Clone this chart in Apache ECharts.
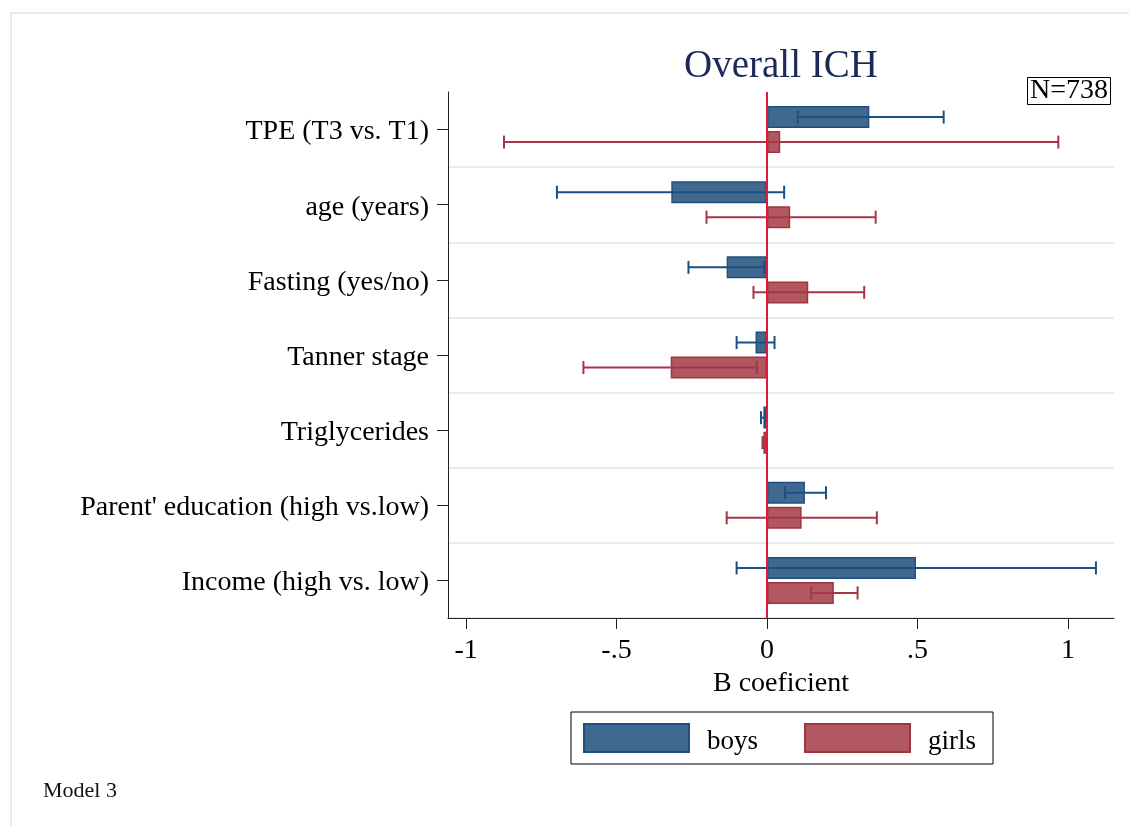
<!DOCTYPE html>
<html>
<head>
<meta charset="utf-8">
<script src="https://cdn.jsdelivr.net/npm/echarts@6/dist/echarts.min.js"></script>
<style>
html,body{margin:0;padding:0;background:#fff;}
#chart{width:1129px;height:826px;}
</style>
</head>
<body>
<div id="chart"></div>
<script>
const categories = ['TPE (T3 vs. T1)', 'age (years)', 'Fasting (yes/no)', 'Tanner stage', 'Triglycerides', "Parent' education (high vs.low)", 'Income (high vs. low)'];
const boysB  = [0.340, -0.318, -0.134, -0.038, -0.012, 0.126, 0.495];
const boysLo = [0.102, -0.698, -0.261, -0.101, -0.020, 0.060, -0.101];
const boysHi = [0.587, 0.057, -0.009, 0.025, -0.006, 0.196, 1.093];
const girlsB  = [0.044, 0.077, 0.137, -0.320, -0.012, 0.115, 0.222];
const girlsLo = [-0.874, -0.201, -0.045, -0.610, -0.015, -0.134, 0.147];
const girlsHi = [0.968, 0.361, 0.323, -0.034, -0.009, 0.365, 0.301];
const xTicks = [-1, -0.5, 0, 0.5, 1];
const xTickLabels = ['-1', '-.5', '0', '.5', '1'];

const FONT = 'Liberation Serif';
const chart = echarts.init(document.getElementById('chart'), null, {renderer: 'canvas'});

function errRender(offset, color) {
  return function (params, api) {
    const lo = api.value(0), hi = api.value(1), idx = api.value(2);
    const p1 = api.coord([lo, idx]);
    const p2 = api.coord([hi, idx]);
    const y = p1[1] + offset;
    const cap = 6.5;
    const st = {stroke: color, lineWidth: 2};
    return {
      type: 'group',
      children: [
        {type: 'line', shape: {x1: p1[0], y1: y, x2: p2[0], y2: y}, style: st},
        {type: 'line', shape: {x1: p1[0], y1: y - cap, x2: p1[0], y2: y + cap}, style: st},
        {type: 'line', shape: {x1: p2[0], y1: y - cap, x2: p2[0], y2: y + cap}, style: st}
      ]
    };
  };
}

const option = {
  animation: false,
  backgroundColor: '#ffffff',
  title: [
    {text: 'Overall ICH', left: 781, top: 47, textAlign: 'center', padding: 0,
     textStyle: {fontFamily: FONT, fontSize: 39, fontWeight: 'normal', color: '#1c2a5a'}},
    {text: 'N=738', left: 1027, top: 77, padding: [0, 3], borderColor: '#000', borderWidth: 1,
     textStyle: {fontFamily: FONT, fontSize: 28, fontWeight: 'normal', color: '#000', lineHeight: 28}},
    {text: 'Model 3', left: 43, top: 780, padding: 0,
     textStyle: {fontFamily: FONT, fontSize: 22, fontWeight: 'normal', color: '#111'}}
  ],
  graphic: [
    {type: 'rect', shape: {x: 11, y: 13, width: 1300, height: 1000}, silent: true,
     style: {fill: 'none', stroke: '#e3ecef', lineWidth: 2}}
  ],
  legend: {
    data: ['boys', 'girls'],
    left: 571, top: 712,
    orient: 'horizontal',
    padding: [9, 17, 9, 12],
    borderColor: '#000', borderWidth: 1,
    itemWidth: 105, itemHeight: 28, itemGap: 46,
    icon: 'rect',
    selectedMode: false,
    formatter: '{a|{name}}',
    textStyle: {fontFamily: FONT, fontSize: 27, color: '#000', lineHeight: 18,
      rich: {a: {fontFamily: FONT, fontSize: 27, color: '#000', lineHeight: 18, padding: [7, 0, 0, 13]}}}
  },
  grid: {left: 448, right: 15, top: 92, bottom: 208, containLabel: false},
  xAxis: {
    type: 'value', min: -1.06, max: 1.153,
    name: 'B coeficient', nameLocation: 'middle', nameGap: 51,
    nameTextStyle: {fontFamily: FONT, fontSize: 28, color: '#000'},
    axisLine: {show: true, lineStyle: {color: '#222', width: 1}},
    axisTick: {show: true, length: 11, customValues: xTicks, lineStyle: {color: '#222'}},
    axisLabel: {customValues: xTicks, margin: 19, fontFamily: FONT, fontSize: 28, color: '#000',
      formatter: function (v) { const i = xTicks.indexOf(v); return i >= 0 ? xTickLabels[i] : ''; }},
    splitLine: {show: false}
  },
  yAxis: {
    type: 'category', data: categories, inverse: true,
    axisLine: {show: true, onZero: false, lineStyle: {color: '#222', width: 1}},
    axisTick: {show: true, alignWithLabel: true, length: 11, lineStyle: {color: '#222'}},
    axisLabel: {margin: 19, fontFamily: FONT, fontSize: 28, color: '#000',
      formatter: function (v) { return '{a|' + v + '}'; },
      rich: {a: {fontFamily: FONT, fontSize: 28, color: '#000', lineHeight: 30, padding: [5, 0, 0, 0]}}},
    splitLine: {show: true, interval: function (i) { return i !== 0; }, lineStyle: {color: '#e4edef', width: 2}}
  },
  series: [
    {
      name: 'boys', type: 'bar', data: boysB, barWidth: 22, barGap: '14%',
      itemStyle: {color: '#41698f', borderColor: '#1f4f7f', borderWidth: 1.5},
      z: 2,
      markLine: {
        silent: true, symbol: ['none', 'none'], label: {show: false}, z: 10,
        lineStyle: {color: '#e01a3c', width: 2, type: 'solid'},
        data: [{xAxis: 0}]
      }
    },
    {
      name: 'girls', type: 'bar', data: girlsB, barWidth: 22,
      itemStyle: {color: '#b0575f', borderColor: '#a0343f', borderWidth: 1.5},
      z: 2
    },
    {
      name: 'boys CI', type: 'custom', z: 5,
      renderItem: errRender(-12.5, '#1b5082'),
      encode: {x: [0, 1], y: 2},
      data: boysLo.map((v, i) => [v, boysHi[i], i])
    },
    {
      name: 'girls CI', type: 'custom', z: 5,
      renderItem: errRender(12.5, '#a83545'),
      encode: {x: [0, 1], y: 2},
      data: girlsLo.map((v, i) => [v, girlsHi[i], i])
    }
  ]
};
chart.setOption(option);
</script>
</body>
</html>
